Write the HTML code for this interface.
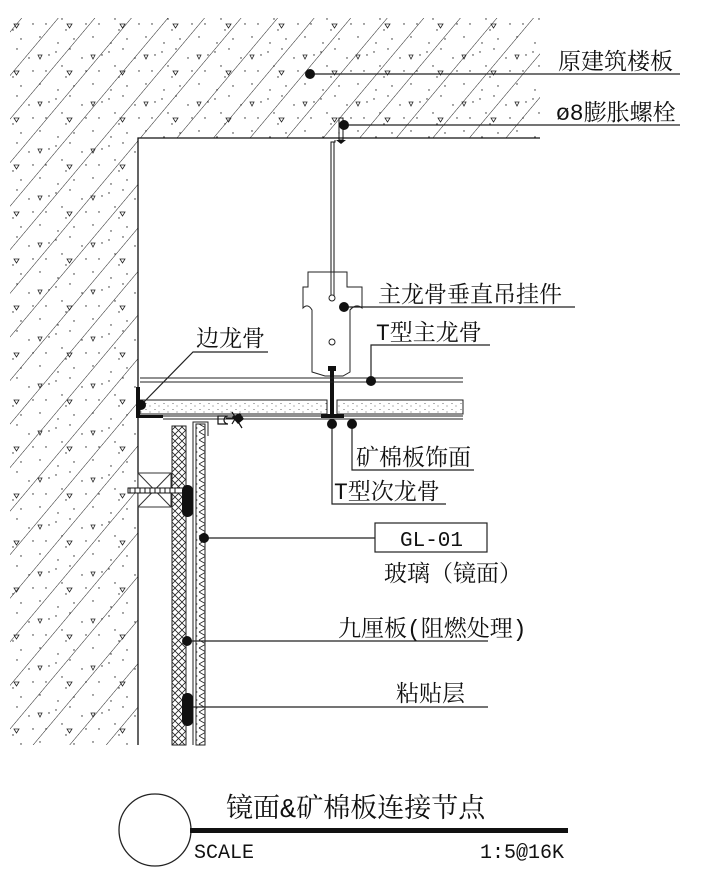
<!DOCTYPE html>
<html><head><meta charset="utf-8"><style>
html,body{margin:0;padding:0;background:#fff;}
svg{display:block;}
text{font-family:"Liberation Mono","Noto Serif CJK SC","Noto Sans CJK SC",monospace;fill:#111;}
</style></head><body>
<svg width="705" height="876" viewBox="0 0 705 876" xmlns="http://www.w3.org/2000/svg">
<defs>
<pattern id="hatch" width="28" height="28" patternUnits="userSpaceOnUse" patternTransform="rotate(40)">
<line x1="0" y1="0" x2="0" y2="28" stroke="#222" stroke-width="1"/>
</pattern>
<pattern id="dots" width="53" height="47" patternUnits="userSpaceOnUse">
<circle cx="3" cy="5" r="0.7" fill="#222"/><circle cx="17" cy="2" r="0.7" fill="#222"/>
<circle cx="29" cy="11" r="0.7" fill="#222"/><circle cx="9" cy="19" r="0.7" fill="#222"/>
<circle cx="46" cy="24" r="0.7" fill="#222"/><circle cx="21" cy="39" r="0.7" fill="#222"/>
<circle cx="5" cy="43" r="0.7" fill="#222"/><circle cx="40" cy="37" r="0.7" fill="#222"/>
<circle cx="13" cy="30" r="0.7" fill="#222"/><circle cx="33" cy="24" r="0.7" fill="#222"/>
<circle cx="49" cy="8" r="0.7" fill="#222"/>
<path d="M14 24 l5 0 l-2.5 4 z" fill="none" stroke="#222" stroke-width="0.8"/>
<path d="M38 8 l4 0 l-2 4 z" fill="none" stroke="#222" stroke-width="0.8"/>
</pattern>
<pattern id="fine" width="9" height="6" patternUnits="userSpaceOnUse">
<circle cx="2" cy="1.5" r="0.5" fill="#333"/><circle cx="6" cy="4" r="0.5" fill="#333"/>
</pattern>
<pattern id="xh" width="7" height="7" patternUnits="userSpaceOnUse">
<path d="M0 0 L7 7 M7 0 L0 7" stroke="#222" stroke-width="0.8"/>
</pattern>
<pattern id="zz" width="9" height="8" patternUnits="userSpaceOnUse">
<path d="M1 0 L8 4 L1 8" fill="none" stroke="#222" stroke-width="0.8"/>
</pattern>
<clipPath id="conc"><path d="M10 18 H540 V138 H138 V745 H10 Z"/></clipPath>
</defs>

<g clip-path="url(#conc)">
<rect x="0" y="0" width="560" height="760" fill="url(#dots)"/>
<rect x="0" y="0" width="560" height="760" fill="url(#hatch)"/>
</g>
<path d="M138 745 V138 H540" fill="none" stroke="#111" stroke-width="1.3"/>

<rect x="339" y="118" width="4" height="22" fill="none" stroke="#111"/>
<path d="M336 140 h10 l-5 4 z" fill="#111"/>
<path d="M335 140 V142 H331 V290" fill="none" stroke="#111"/>
<line x1="334" y1="142" x2="334" y2="290" stroke="#111"/>
<path d="M308 272 H347 V287 H362 V308 Q356 303 350 310 V372 L343 376 H325 L312 372 V310 Q308 303 303 308 V287 H308 Z" fill="#fff" stroke="#222"/>
<line x1="331" y1="272" x2="331" y2="300" stroke="#222"/><line x1="334" y1="272" x2="334" y2="300" stroke="#222"/>
<circle cx="332" cy="298" r="3" fill="#fff" stroke="#222"/>
<circle cx="332" cy="342" r="3" fill="#fff" stroke="#222"/>
<rect x="328" y="366" width="8" height="5" fill="#111"/>
<rect x="330" y="366" width="4" height="50" fill="#111"/>
<line x1="140" y1="378" x2="463" y2="378" stroke="#222"/>
<line x1="140" y1="382" x2="463" y2="382" stroke="#222"/>
<rect x="140" y="400" width="187" height="14" fill="url(#fine)" stroke="#222"/>
<rect x="337" y="400" width="126" height="14" fill="url(#fine)" stroke="#222"/>
<line x1="163" y1="416" x2="463" y2="416" stroke="#222"/>
<line x1="163" y1="419" x2="463" y2="419" stroke="#222"/>
<rect x="321" y="414" width="23" height="4" fill="#111"/>
<rect x="136" y="387" width="4" height="31" fill="#111"/>
<rect x="136" y="415" width="27" height="3" fill="#111"/>
<path d="M218 424 h10 a4 4 0 0 1 0 -8 h-10 z M226 418 l14 0 M232 412 l10 16 M238 414 l-6 10" fill="none" stroke="#111" stroke-width="1.2"/>
<path d="M232 417 l8 -4 l4 6 l-6 5 z" fill="#111"/>

<rect x="172" y="426" width="14" height="319" fill="url(#xh)" stroke="#222"/>
<rect x="196" y="424" width="9" height="321" fill="url(#zz)" stroke="#222"/>
<path d="M193 745 V422 H208 V436" fill="none" stroke="#222"/>
<rect x="138" y="473" width="33" height="34" fill="#fff" stroke="#333"/>
<path d="M138 473 L171 507 M171 473 L138 507" stroke="#333"/>
<rect x="128" y="488" width="55" height="5" fill="#fff" stroke="#111"/>
<path d="M130 488 v5 M135 488 v5 M140 488 v5 M145 488 v5 M150 488 v5 M155 488 v5 M160 488 v5 M165 488 v5 M170 488 v5 M175 488 v5" stroke="#111"/>
<rect x="182" y="485" width="11" height="32" rx="5" fill="#111"/>
<rect x="182" y="693" width="11" height="33" rx="5" fill="#111"/>

<g stroke="#222" stroke-width="1.2" fill="none">
<path d="M310 74 H680"/>
<path d="M344 125 H680"/>
<path d="M344 307 H575"/>
<path d="M371 381 V345 H490"/>
<path d="M141 405 L193 352 H268"/>
<path d="M352 424 V470 H474"/>
<path d="M332 424 V504 H446"/>
<path d="M204 538 H375"/>
<path d="M187 641 H488"/>
<path d="M193 707 H488"/>
</g>
<g fill="#111">
<circle cx="310" cy="74" r="5"/><circle cx="344" cy="125" r="5"/>
<circle cx="344" cy="307" r="5"/><circle cx="371" cy="381" r="5"/>
<circle cx="141" cy="405" r="5"/><circle cx="352" cy="424" r="5"/>
<circle cx="332" cy="424" r="5"/><circle cx="204" cy="538" r="5"/>
<circle cx="187" cy="641" r="5"/>
</g>
<rect x="375" y="523" width="112" height="29" fill="#fff" stroke="#222" stroke-width="1.2"/>

<g font-size="23">
<text x="558" y="69">原建筑楼板</text>
<text x="556" y="120">ø8膨胀螺栓</text>
<text x="378" y="302">主龙骨垂直吊挂件</text>
<text x="376" y="340">T型主龙骨</text>
<text x="196" y="346">边龙骨</text>
<text x="356" y="465">矿棉板饰面</text>
<text x="334" y="499">T型次龙骨</text>
<text x="400" y="546" font-size="21">GL-01</text>
<text x="384" y="581">玻璃（镜面）</text>
<text x="338" y="636">九厘板(阻燃处理)</text>
<text x="396" y="701">粘贴层</text>
<text x="226" y="817" font-size="27">镜面&amp;矿棉板连接节点</text>
<text x="194" y="858" font-size="20">SCALE</text>
<text x="480" y="858" font-size="20">1:5@16K</text>
</g>
<circle cx="155" cy="830" r="36" fill="#fff" stroke="#222" stroke-width="1.3"/>
<rect x="190" y="828" width="378" height="5" fill="#111"/>
</svg>
</body></html>
